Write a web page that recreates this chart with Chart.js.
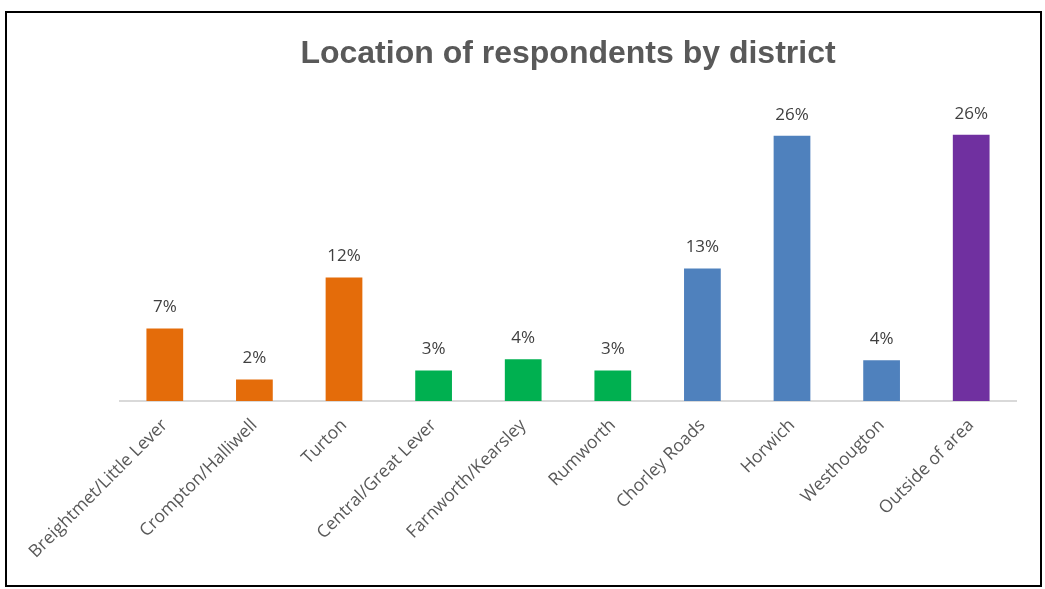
<!DOCTYPE html>
<html>
<head>
<meta charset="utf-8">
<script src="https://cdn.jsdelivr.net/npm/chart.js@4.4.0/dist/chart.umd.min.js"></script>
<style>
  html, body { margin: 0; padding: 0; background: #fff; }
  #wrap { position: relative; width: 1045px; height: 589px; }
  #frame { position: absolute; left: 5px; top: 11px; width: 1033px; height: 572px; border: 2px solid #000; pointer-events: none; }
  #chart { position: absolute; left: 0; top: 0; }
</style>
</head>
<body>
<div id="wrap">
  <canvas id="chart" width="1045" height="589"></canvas>
  <div id="frame"></div>
</div>
<script>
const districts = ['Breightmet/Little Lever', 'Crompton/Halliwell', 'Turton', 'Central/Great Lever', 'Farnworth/Kearsley', 'Rumworth', 'Chorley Roads', 'Horwich', 'Westhougton', 'Outside of area'];
const percentages = [7.1, 2.1, 12.1, 3.0, 4.1, 3.0, 13.0, 26.0, 4.0, 26.1];
const barColours = ['#E46C0A', '#E46C0A', '#E46C0A', '#00B050', '#00B050', '#00B050', '#4F81BD', '#4F81BD', '#4F81BD', '#7030A0'];

const FONT = '"Open Sans", "Liberation Sans", sans-serif';

// value labels above each bar
const barLabels = {
  id: 'barLabels',
  afterDatasetsDraw(chart) {
    const ctx = chart.ctx;
    const meta = chart.getDatasetMeta(0);
    ctx.save();
    ctx.font = '17px ' + FONT;
    ctx.fillStyle = '#404040';
    ctx.textAlign = 'center';
    ctx.textBaseline = 'middle';
    meta.data.forEach((bar, i) => {
      ctx.fillText(Math.round(percentages[i]) + '%', bar.x, bar.y - 21);
    });
    ctx.restore();
  }
};

new Chart(document.getElementById('chart'), {
  type: 'bar',
  data: {
    labels: districts,
    datasets: [{
      data: percentages,
      backgroundColor: barColours,
      barPercentage: 0.41,
      categoryPercentage: 1
    }]
  },
  options: {
    responsive: false,
    animation: false,
    layout: { padding: { left: 120, right: 29, top: 0, bottom: 0 } },
    plugins: {
      legend: { display: false },
      tooltip: { enabled: false },
      title: {
        display: true,
        text: 'Location of respondents by district',
        color: '#595959',
        font: { family: '"Liberation Sans", Arial, sans-serif', size: 32, weight: 'bold' },
        padding: { top: 35, bottom: 21.6 }
      }
    },
    scales: {
      x: {
        grid: { display: false },
        border: { color: '#D9D9D9', width: 2 },
        ticks: {
          color: '#595959',
          font: { family: FONT, size: 17.5 },
          maxRotation: 45,
          minRotation: 45,
          padding: 6
        },
        afterFit(scale) { scale.height = 188; }
      },
      y: {
        display: false,
        min: 0,
        max: 30
      }
    }
  },
  plugins: [barLabels]
});
</script>
</body>
</html>
